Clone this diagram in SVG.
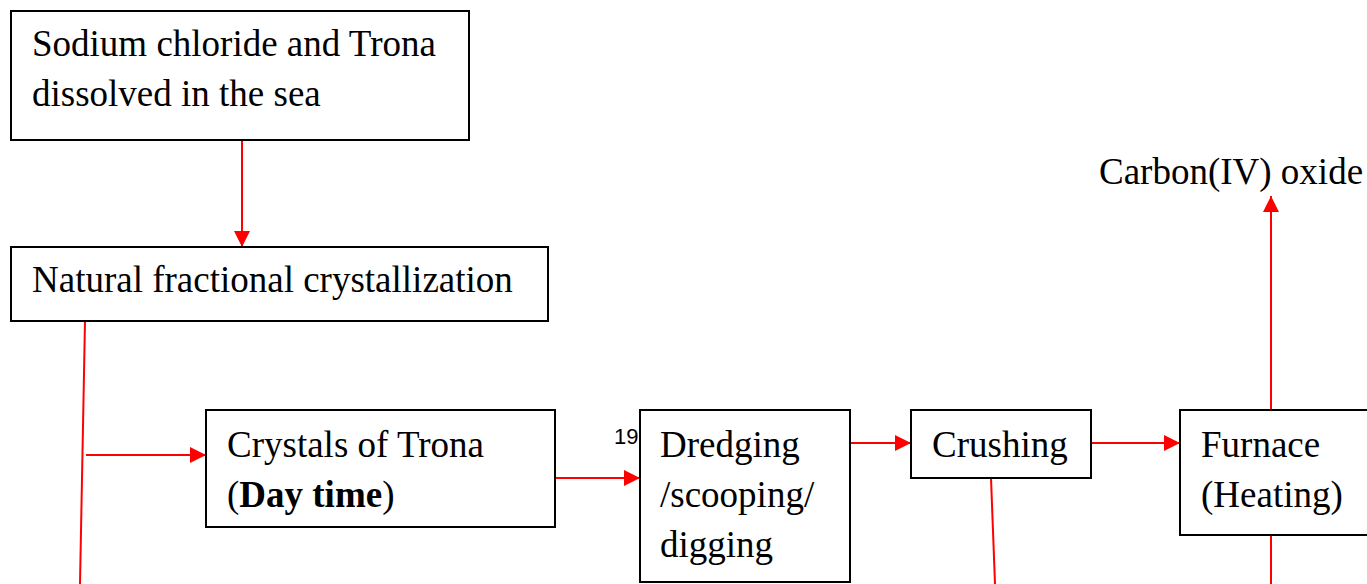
<svg xmlns="http://www.w3.org/2000/svg" width="1367" height="584" viewBox="0 0 1367 584">
<style>
.box{fill:#fff;stroke:#000;stroke-width:2}
.t{font-family:"Liberation Serif","Times New Roman",serif;font-size:37px;fill:#000}
.c{stroke:#f00;stroke-width:2;fill:none}
</style>
<defs>
<marker id="ah" viewBox="0 0 16 16" refX="16" refY="8" markerWidth="16" markerHeight="16" markerUnits="userSpaceOnUse" orient="auto">
<path d="M0,0 L16,8 L0,16 Z" fill="#f00"/>
</marker>
</defs>
<rect width="1367" height="584" fill="#fff"/>
<g id="connectors">
<line class="c" x1="242" y1="140" x2="242" y2="247" marker-end="url(#ah)"/>
<line class="c" x1="85" y1="321" x2="80" y2="584"/>
<line class="c" x1="86" y1="455" x2="206" y2="455" marker-end="url(#ah)"/>
<line class="c" x1="555" y1="478" x2="640" y2="478" marker-end="url(#ah)"/>
<line class="c" x1="850" y1="443" x2="911" y2="443" marker-end="url(#ah)"/>
<line class="c" x1="991" y1="478" x2="995" y2="584"/>
<line class="c" x1="1091" y1="443" x2="1180" y2="443" marker-end="url(#ah)"/>
<line class="c" x1="1271" y1="410" x2="1271" y2="196" marker-end="url(#ah)"/>
<line class="c" x1="1271" y1="535" x2="1271" y2="584"/>
</g>
<g id="n1"><rect class="box" x="11" y="11" width="458" height="129"/>
<text class="t" x="32" y="56">Sodium chloride and Trona</text>
<text class="t" x="32" y="106">dissolved in the sea</text></g>
<g id="n2"><rect class="box" x="11" y="247" width="537" height="74"/>
<text class="t" x="32" y="292">Natural fractional crystallization</text></g>
<g id="n3"><rect class="box" x="206" y="410" width="349" height="117"/>
<text class="t" x="227" y="457">Crystals of Trona</text>
<text class="t" x="227" y="507">(<tspan font-weight="bold">Day time</tspan>)</text></g>
<text x="614" y="444" font-family="Liberation Sans, Arial, sans-serif" font-size="22" fill="#000">19</text>
<g id="n4"><rect class="box" x="640" y="410" width="210" height="172"/>
<text class="t" x="660" y="457">Dredging</text>
<text class="t" x="660" y="507">/scooping/</text>
<text class="t" x="660" y="557">digging</text></g>
<g id="n5"><rect class="box" x="911" y="410" width="180" height="68"/>
<text class="t" x="932" y="457">Crushing</text></g>
<g id="n6"><rect class="box" x="1180" y="410" width="200" height="125"/>
<text class="t" x="1201" y="457">Furnace</text>
<text class="t" x="1201" y="507">(Heating)</text></g>
<g id="n7"><text class="t" x="1099" y="184">Carbon(IV) oxide</text></g>
</svg>
